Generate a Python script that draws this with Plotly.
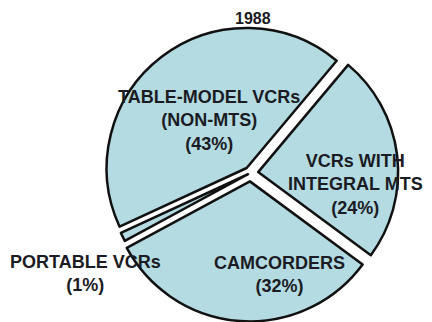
import plotly.graph_objects as go

# 1988 unit share by product type, in clockwise order from the upper-right cut
categories = ["VCRs WITH INTEGRAL MTS", "CAMCORDERS", "PORTABLE VCRs", "TABLE-MODEL VCRs (NON-MTS)"]
shares = [24, 32, 1, 43]
label_lines = [["VCRs WITH", "INTEGRAL MTS"], ["CAMCORDERS"], ["PORTABLE VCRs"], ["TABLE-MODEL VCRs", "(NON-MTS)"]]
pulls = [0.055, 0.06, 0.02, 0.045]
year = "1988"

W, H = 432, 322
FILL = "#b4dbe2"
INK = "#1b1b24"
FONT = "Liberation Sans, Arial, Helvetica, sans-serif"

fig = go.Figure()
fig.add_trace(go.Pie(
    labels=categories,
    values=shares,
    sort=False,
    direction="clockwise",
    rotation=40,
    pull=pulls,
    textinfo="none",
    hoverinfo="label+percent",
    marker=dict(colors=[FILL] * len(shares), line=dict(color="#111111", width=2.5)),
    domain=dict(x=[102.0 / W, 399.0 / W], y=[0.6 / H, 297.4 / H]),
    showlegend=False,
))

# text block centres (pixels from top-left) for each slice
label_pos = [(355, 184.5), (279, 274), (85, 273.5), (209, 120.5)]

annotations = []
for lines, share, (x, y) in zip(label_lines, shares, label_pos):
    text = "<br>".join(f"<b>{t}</b>" for t in lines + [f"({share}%)"])
    annotations.append(dict(
        text=text, x=x / W, y=1 - y / H, xref="paper", yref="paper",
        xanchor="center", yanchor="middle", align="center", showarrow=False,
        font=dict(family=FONT, size=18, color=INK),
    ))

annotations.append(dict(
    text=f"<b>{year}</b>", x=253 / W, y=1 - 18.5 / H, xref="paper", yref="paper",
    xanchor="center", yanchor="middle", showarrow=False,
    font=dict(family=FONT, size=16, color=INK),
))

fig.update_layout(
    width=W, height=H,
    margin=dict(l=0, r=0, t=0, b=0),
    paper_bgcolor="white",
    plot_bgcolor="white",
    annotations=annotations,
)

fig.write_html("out.html")
